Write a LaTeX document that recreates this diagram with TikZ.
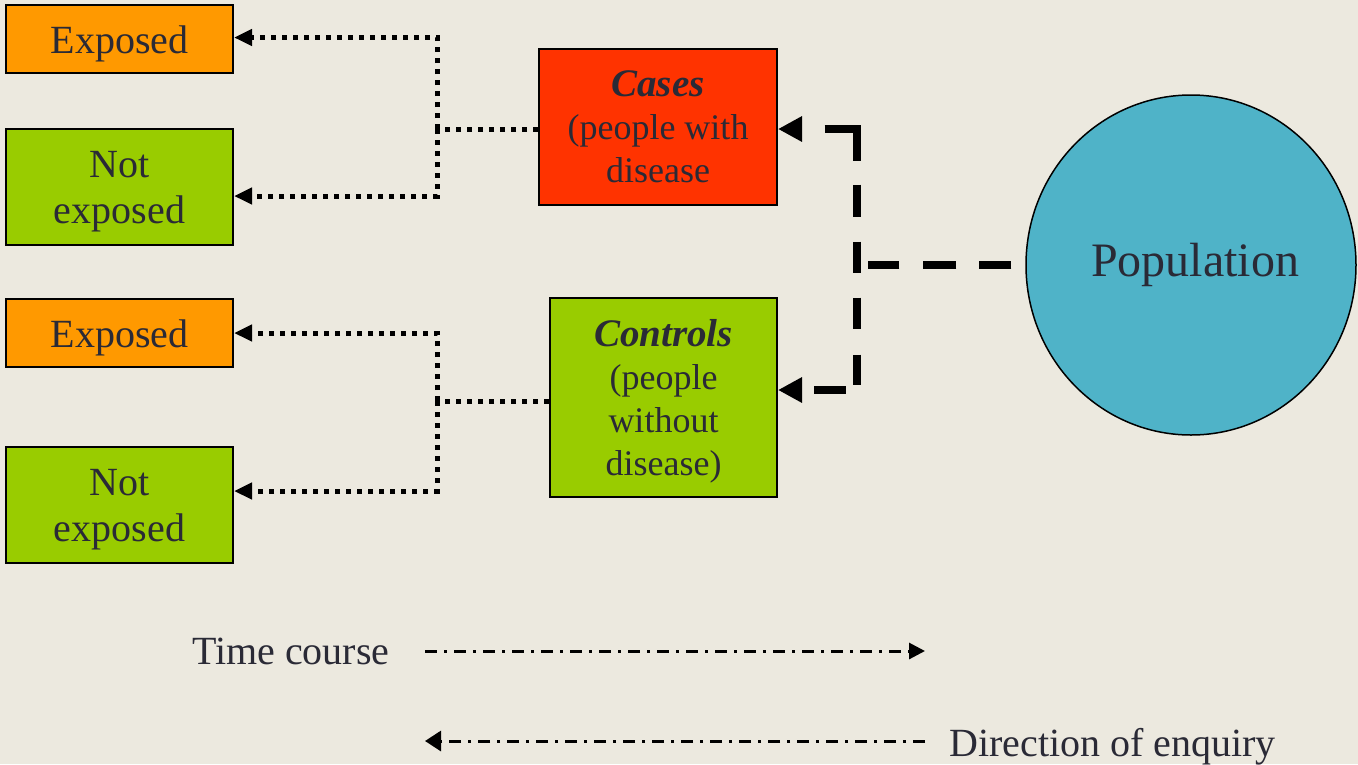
\documentclass[tikz,border=0pt]{standalone}
\usepackage{fontspec}
\setmainfont{Liberation Serif}
\usetikzlibrary{arrows.meta,shapes.geometric}
\definecolor{bg}{RGB}{236,233,223}
\definecolor{expo}{RGB}{255,153,0}
\definecolor{notexpo}{RGB}{153,204,0}
\definecolor{casered}{RGB}{255,51,0}
\definecolor{popblue}{RGB}{79,179,200}
\definecolor{ink}{RGB}{42,42,54}
% heading font for the two study groups
\newcommand{\grouptitle}{\fontsize{39}{43}\selectfont\bfseries\itshape}

\begin{document}
\begin{tikzpicture}[x=1pt,y=-1pt,
  box/.style={draw=black,line width=2pt,rectangle,inner sep=0pt,align=center,
    text=ink,text depth=0pt},
  smallbox/.style={box,minimum width=227pt,font=\fontsize{40}{46}\selectfont},
  bigbox/.style={box,font=\fontsize{36}{43}\selectfont},
  dotline/.style={line width=5pt,dash pattern=on 5pt off 6pt},
  dotarrow/.style={dotline,-{Triangle[length=18pt,width=16pt]}},
  dashline/.style={line width=8pt},
  bothtips/.style={{Triangle[length=24pt,width=24pt]}-{Triangle[length=24pt,width=24pt]}},
  timeline/.style={line width=3pt,dash pattern=on 12pt off 7pt on 3pt off 7pt},
  legend/.style={text=ink,inner sep=0pt,font=\fontsize{40}{46}\selectfont}
]
% background and page size
\fill[bg] (0,0) rectangle (1358,764);
\useasboundingbox (0,0) rectangle (1358,764);

% exposure boxes
\node[smallbox,fill=expo,minimum height=68pt,text height=29pt] (exp1) at (119.5,38.5) {Exposed};
\node[smallbox,fill=notexpo,minimum height=116pt] (not1) at (119.5,187) {Not\\exposed};
\node[smallbox,fill=expo,minimum height=68pt,text height=29pt] (exp2) at (119.5,333) {Exposed};
\node[smallbox,fill=notexpo,minimum height=116pt] (not2) at (119.5,505) {Not\\exposed};

% study groups
\node[bigbox,fill=casered,minimum width=238pt,minimum height=156pt,text depth=-3pt] (cases) at (658,127)
  {{\grouptitle Cases}\\(people with\\disease};
\node[bigbox,fill=notexpo,minimum width=227pt,minimum height=199pt] (ctrl) at (663.5,397.5)
  {{\grouptitle Controls}\\(people\\without\\disease)};

% population
\node[ellipse,draw=black,line width=1.5pt,fill=popblue,minimum width=330pt,
  minimum height=340pt,inner sep=0pt,text=ink,font=\fontsize{48}{56}\selectfont]
  (pop) at (1191,265) {\hspace*{8pt}Population};

% branching points
\coordinate (j1) at (437,129);
\coordinate (j2) at (437,401);
\coordinate (j3) at (857,265);

% looking back at exposure
\draw[dotline] ([yshift=-2pt]cases.west) -- (j1);
\draw[dotarrow] (j1) |- ([yshift=1pt]exp1.east);
\draw[dotarrow] (j1) |- ([yshift=-9pt]not1.east);
\draw[dotline] ([yshift=-3.5pt]ctrl.west) -- (j2);
\draw[dotarrow] (j2) |- (exp2.east);
\draw[dotarrow] (j2) |- ([yshift=14pt]not2.east);

% sampling from the population
\draw[dashline,dash pattern=on 0pt off 14pt on 32pt off 23pt on 33pt off 24pt on 31pt off 12pt]
  (pop.west) -- (j3);
\draw[dashline,bothtips,
  dash pattern=on 0pt off 24pt on 64pt off 24pt on 32pt off 25pt on 31pt off 25pt
    on 31pt off 26pt on 30pt off 17pt on 32pt off 12pt]
  ([yshift=-2pt]cases.east) -| (j3) |- ([yshift=7.5pt]ctrl.east);

% legend
\node[legend,anchor=base west] (tc) at (192,664) {Time course};
\node[legend,anchor=base west] (de) at (949,756) {Direction of enquiry};
\coordinate (t0) at (425,651);
\coordinate (t1) at (925,651);
\coordinate (d0) at (925,741);
\coordinate (d1) at (425,741);
\draw[timeline,-{Triangle[length=16pt,width=16pt]}] (t0) -- (t1);
\draw[timeline,-{Triangle[length=16pt,width=20pt]}] (d0) -- (d1);
\end{tikzpicture}
\end{document}
